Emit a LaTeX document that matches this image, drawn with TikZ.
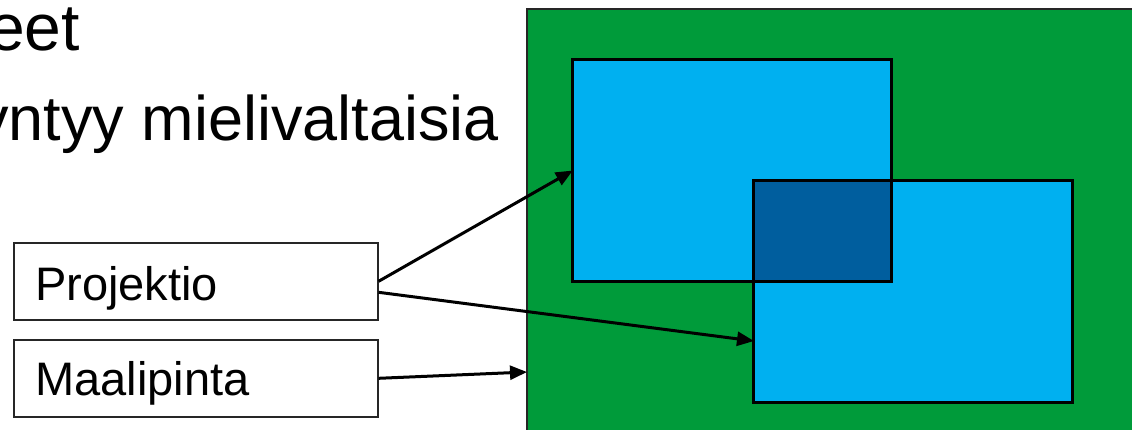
\documentclass[tikz,border=0pt]{standalone}
\usepackage{fontspec}
\setmainfont{Liberation Sans}
\usetikzlibrary{arrows.meta}
\definecolor{fieldgreen}{RGB}{0,155,58}
\definecolor{projblue}{RGB}{0,176,240}
\definecolor{overlapblue}{RGB}{0,94,158}
\tikzset{
  labelbox/.style={draw=black!85, line width=1.6pt, fill=white, minimum width=364pt, minimum height=77pt, inner sep=0pt, font=\fontsize{47}{56}\selectfont, text=black},
  projrect/.style={draw=none, fill=projblue, minimum width=318pt, minimum height=221pt, inner sep=0pt},
  rectedge/.style={black, line width=2.8pt},
  conn/.style={-{Triangle[length=17pt,width=14pt]}, line width=3pt, black},
  bigtext/.style={inner sep=0pt, text=black}
}
\begin{document}
\begin{tikzpicture}[x=1pt,y=-1pt]
\useasboundingbox (0,0) rectangle (1132,429);
\clip (0,0) rectangle (1132,429);
% green target surface
\path[fill=fieldgreen, draw=black!85, line width=2pt] (527,9) rectangle (1145,445);
\coordinate (greenleft) at (527,372);
% projection rectangles
\node[projrect] (blueA) at (732,170.5) {};
\node[projrect] (blueB) at (913,291.5) {};
\fill[overlapblue] (754,181) rectangle (891,281);
\draw[rectedge] (blueA.south west) rectangle (blueA.north east);
\draw[rectedge] (blueB.south west) rectangle (blueB.north east);
\coordinate (blueBin) at (754,341);
% text lines
\node[bigtext, anchor=base east, font=\fontsize{66}{78}\selectfont] (line1) at (80,50) {eet};
\node[bigtext, anchor=base east, font=\fontsize{63}{75}\selectfont] (line2) at (499,140) {yntyy mielivaltaisia};
% label boxes
\node[labelbox, anchor=north west] (proj) at (13,242) {};
\node[anchor=base west, inner sep=0pt, font=\fontsize{47}{56}\selectfont] (projtext) at (35,300) {Projektio};
\node[labelbox, anchor=north west] (maali) at (13,339) {};
\node[anchor=base west, inner sep=0pt, font=\fontsize{47}{56}\selectfont] (maalitext) at (35,395) {Maalipinta};
% connectors
\draw[conn] (proj.east) -- (blueA.west);
\draw[conn] ([yshift=-11pt]proj.east) -- (blueBin);
\draw[conn] (maali.east) -- (greenleft);
\end{tikzpicture}
\end{document}
